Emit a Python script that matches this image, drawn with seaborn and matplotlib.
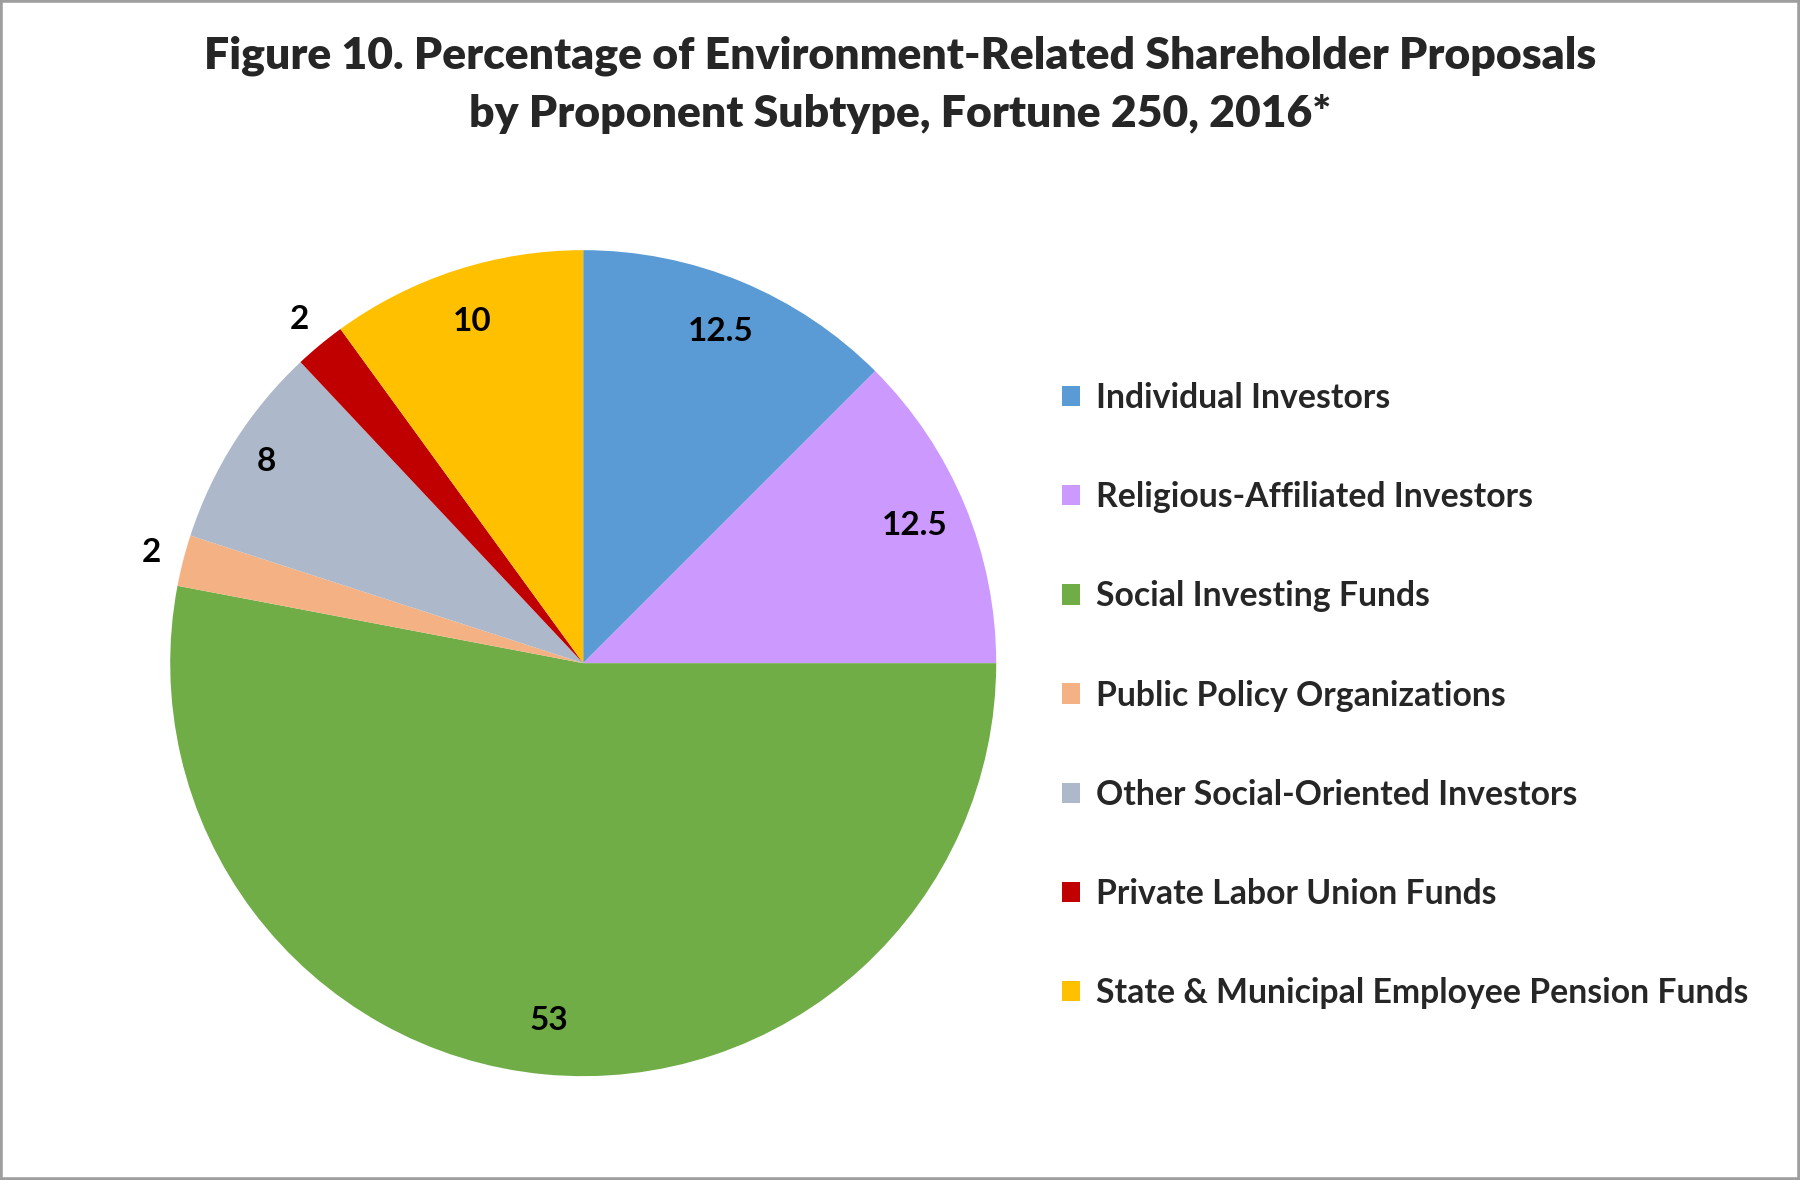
import matplotlib
matplotlib.use("Agg")
import matplotlib.pyplot as plt
import numpy as np
import seaborn as sns
from matplotlib.patches import Rectangle

CATEGORIES = [
    "Individual Investors",
    "Religious-Affiliated Investors",
    "Social Investing Funds",
    "Public Policy Organizations",
    "Other Social-Oriented Investors",
    "Private Labor Union Funds",
    "State & Municipal Employee Pension Funds",
]
VALUES = [12.5, 12.5, 53, 2, 8, 2, 10]
LABELS = ["12.5", "12.5", "53", "2", "8", "2", "10"]
COLORS = ["#5B9BD5", "#CC99FF", "#70AD47", "#F4B183", "#ADB9CA", "#C00000", "#FFC000"]

sns.set_theme(style="white")
plt.rcParams["font.family"] = ["Lato", "DejaVu Sans"]

fig = plt.figure(figsize=(18, 11.8), dpi=100)
fig.patch.set_facecolor("white")
fig.patches.append(Rectangle((0, 0), 1, 1, transform=fig.transFigure, fill=False,
                             edgecolor="#9E9E9E", linewidth=4))

ax = fig.add_axes([0.0945, 0.088, 0.459, 0.70])
palette = sns.color_palette(COLORS)
wedges, _ = ax.pie(VALUES, colors=palette, startangle=90, counterclock=False,
                   radius=1.0, wedgeprops={"linewidth": 0})
ax.set_xlim(-1, 1)
ax.set_ylim(-1, 1)
ax.set_aspect("equal")
ax.axis("off")

# small slices get their labels just outside the rim
for w, lab, val in zip(wedges, LABELS, VALUES):
    mid = np.deg2rad((w.theta1 + w.theta2) / 2)
    if val <= 2:
        dist = 1.08
    elif val < 10:
        dist = 0.91
    else:
        dist = 0.87
    ax.text(dist * np.cos(mid), dist * np.sin(mid), lab, ha="center", va="center",
            fontsize=24, fontweight="bold", color="black")

fig.text(0.5, 0.953, "Figure 10. Percentage of Environment-Related Shareholder Proposals",
         ha="center", va="center", fontsize=32, fontweight="heavy")
fig.text(0.5, 0.903, "by Proponent Subtype, Fortune 250, 2016*",
         ha="center", va="center", fontsize=32, fontweight="heavy")

leg = fig.legend(wedges, CATEGORIES, loc="upper left", bbox_to_anchor=(0.573, 0.702),
                 frameon=False, prop={"size": 24.3, "weight": "bold"},
                 handlelength=0.55, handleheight=0.55,
                 handletextpad=0.45, labelspacing=1.99)

fig.savefig("out.png", dpi=100)
